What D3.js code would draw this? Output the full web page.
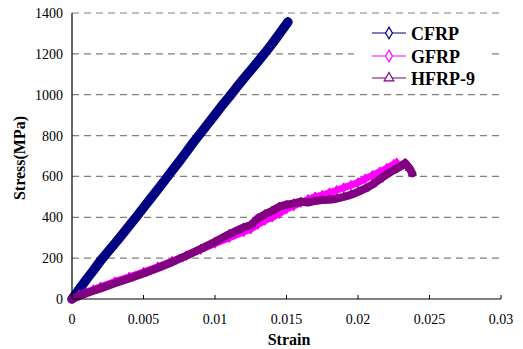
<!DOCTYPE html>
<html><head><meta charset="utf-8">
<script src="https://cdn.jsdelivr.net/npm/d3@7/dist/d3.min.js"></script>
<style>body{margin:0;background:#fff;} svg{display:block;} text{font-family:"Liberation Serif","DejaVu Serif",serif;}</style>
</head><body>
<svg id="chart" width="523" height="349"></svg>
<script>
const seriesNames = ["CFRP", "GFRP", "HFRP-9"];
const seriesColors = ["#000080", "#FF00FF", "#800080"];
const xTicks = [0, 0.005, 0.01, 0.015, 0.02, 0.025, 0.03];
const xTickLabels = ["0", "0.005", "0.01", "0.015", "0.02", "0.025", "0.03"];
const yTicks = [0, 200, 400, 600, 800, 1000, 1200, 1400];

const cfrpStrain = [0, 0.0005, 0.001, 0.0015, 0.002, 0.0025, 0.003, 0.0035, 0.004, 0.0045, 0.005, 0.0055, 0.006, 0.0065, 0.007, 0.0075, 0.008, 0.0085, 0.009, 0.0095, 0.010, 0.0105, 0.011, 0.0115, 0.012, 0.0125, 0.013, 0.0135, 0.014, 0.0145, 0.0151];
const cfrpStress = [0, 47, 95, 140, 188, 230, 272, 315, 358, 402, 447, 492, 537, 582, 628, 673, 720, 768, 812, 857, 902, 948, 990, 1035, 1078, 1120, 1162, 1205, 1250, 1298, 1356];

const gfrpStrain = [0, 0.0005, 0.001, 0.0015, 0.002, 0.003, 0.004, 0.005, 0.006, 0.007, 0.008, 0.009, 0.010, 0.011, 0.012, 0.0125, 0.013, 0.0135, 0.014, 0.0145, 0.015, 0.0155, 0.016, 0.0165, 0.017, 0.0175, 0.018, 0.0185, 0.019, 0.0195, 0.020, 0.0205, 0.021, 0.0215, 0.022, 0.0225, 0.0227];
const gfrpStress = [0, 18, 33, 46, 60, 85, 108, 132, 158, 185, 212, 242, 272, 300, 328, 342, 365, 385, 400, 418, 440, 455, 472, 488, 500, 508, 520, 532, 545, 557, 570, 588, 605, 622, 640, 660, 667];

const hfrpStrain = [0, 0.0005, 0.001, 0.0015, 0.002, 0.003, 0.004, 0.005, 0.006, 0.007, 0.0075, 0.008, 0.009, 0.010, 0.011, 0.012, 0.0125, 0.013, 0.0135, 0.014, 0.0145, 0.015, 0.0155, 0.016, 0.0165, 0.017, 0.0175, 0.018, 0.0185, 0.019, 0.0195, 0.020, 0.0205, 0.021, 0.0215, 0.022, 0.0225, 0.023, 0.0233, 0.0236, 0.0238];
const hfrpStress = [0, 14, 28, 40, 52, 77, 100, 125, 152, 180, 196, 212, 245, 280, 318, 350, 362, 395, 415, 432, 452, 462, 468, 476, 472, 480, 484, 486, 491, 500, 510, 524, 540, 560, 585, 610, 630, 650, 666, 640, 615];

const svg = d3.select("#chart");
const pLeft = 72, pRight = 501, pTop = 13, pBottom = 299;
const x = d3.scaleLinear().domain([0, 0.03]).range([pLeft, pRight]);
const y = d3.scaleLinear().domain([0, 1400]).range([pBottom, pTop]);

// grid
svg.append("g").selectAll("line").data(yTicks.slice(1)).join("line")
  .attr("x1", pLeft).attr("x2", pRight)
  .attr("y1", d => y(d)).attr("y2", d => y(d))
  .attr("stroke", "#808080").attr("stroke-width", 1.2)
  .attr("stroke-dasharray", "7,5");

// series
const series = [
  {name: seriesNames[0], color: seriesColors[0], xs: cfrpStrain, ys: cfrpStress, w: 9.5, shape: d3.symbolDiamond},
  {name: seriesNames[1], color: seriesColors[1], xs: gfrpStrain, ys: gfrpStress, w: 7, shape: d3.symbolDiamond},
  {name: seriesNames[2], color: seriesColors[2], xs: hfrpStrain, ys: hfrpStress, w: 8, shape: d3.symbolTriangle}
];
const line = d3.line().x(d => x(d[0])).y(d => y(d[1])).curve(d3.curveLinear);
series.forEach(s => {
  const pts = s.xs.map((v, i) => [v, s.ys[i]]);
  svg.append("path").datum(pts).attr("d", line)
    .attr("fill", "none").attr("stroke", s.color)
    .attr("stroke-width", s.w).attr("stroke-linejoin", "round").attr("stroke-linecap", "round");
  svg.append("g").selectAll("path").data(pts).join("path")
    .attr("transform", d => `translate(${x(d[0])},${y(d[1])})`)
    .attr("d", d3.symbol().type(s.shape).size(28))
    .attr("fill", s.color).attr("stroke", s.color).attr("stroke-width", 1);
});

// axes
svg.append("line").attr("x1", pLeft).attr("x2", pLeft).attr("y1", pTop).attr("y2", pBottom)
  .attr("stroke", "#000").attr("stroke-width", 1.2);
svg.append("line").attr("x1", pLeft).attr("x2", pRight).attr("y1", pBottom).attr("y2", pBottom)
  .attr("stroke", "#000").attr("stroke-width", 1.2);
svg.append("g").selectAll("line").data(xTicks).join("line")
  .attr("x1", d => x(d)).attr("x2", d => x(d)).attr("y1", pBottom).attr("y2", pBottom - 4)
  .attr("stroke", "#000").attr("stroke-width", 1);
svg.append("g").selectAll("text").data(xTicks).join("text")
  .attr("x", d => x(d)).attr("y", 324).attr("text-anchor", "middle")
  .attr("font-size", 14).text((d, i) => xTickLabels[i]);
svg.append("g").selectAll("text").data(yTicks).join("text")
  .attr("x", 63).attr("y", d => y(d) + 5).attr("text-anchor", "end")
  .attr("font-size", 14).text(d => d);

svg.append("text").attr("x", 289).attr("y", 345).attr("text-anchor", "middle")
  .attr("font-size", 16).attr("font-weight", "bold").text("Strain");
svg.append("text").attr("transform", "translate(25,158) rotate(-90)").attr("text-anchor", "middle")
  .attr("font-size", 16).attr("font-weight", "bold").text("Stress(MPa)");

// legend
const lg = svg.append("g");
lg.append("rect").attr("x", 354).attr("y", 22).attr("width", 138).attr("height", 68).attr("fill", "#fff");
const legY = [33, 56, 78];
series.forEach((s, i) => {
  lg.append("line").attr("x1", 372).attr("x2", 406).attr("y1", legY[i]).attr("y2", legY[i])
    .attr("stroke", s.color).attr("stroke-width", 1.2);
  lg.append("path").attr("transform", `translate(389,${legY[i]})`)
    .attr("d", d3.symbol().type(s.shape).size(40))
    .attr("fill", "#fff").attr("stroke", s.color).attr("stroke-width", 1.2);
  lg.append("text").attr("x", 411).attr("y", legY[i] + 6.5)
    .attr("font-size", 18).attr("font-weight", "bold").text(s.name);
});
</script>
</body></html>
